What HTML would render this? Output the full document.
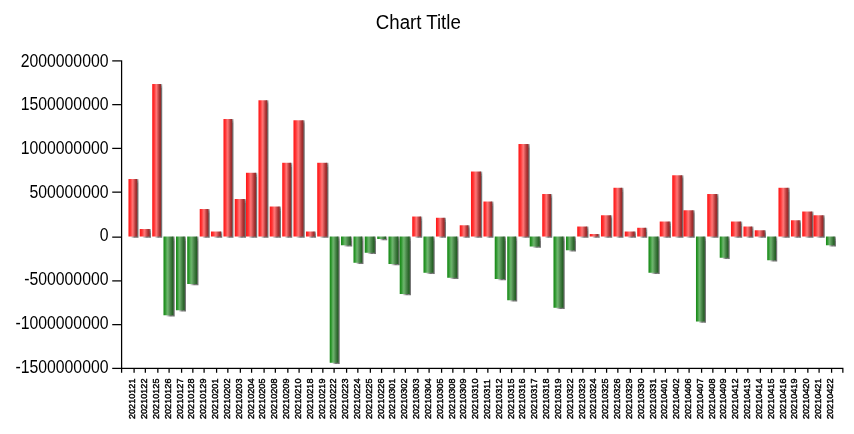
<!DOCTYPE html>
<html lang="en"><head><meta charset="utf-8"><title>Chart Title</title>
<style>
html,body{margin:0;padding:0;background:#fff;}
body{width:854px;height:434px;overflow:hidden;}
svg{display:block;}
text{font-family:"Liberation Sans",Arial,sans-serif;fill:#000;}
.yl{font-size:16.0px;text-anchor:end;}
.xl{font-size:9.33px;text-anchor:start;stroke:#000;stroke-width:0.42px;}
.t{font-size:18.67px;text-anchor:middle;}
</style></head><body>
<svg width="854" height="434" viewBox="0 0 854 434">
<defs>
<linearGradient id="gr" x1="0" y1="0" x2="1" y2="0"><stop offset="0" stop-color="rgb(255,22,22)"/><stop offset="0.146" stop-color="rgb(255,40,40)"/><stop offset="0.26" stop-color="rgb(255,60,60)"/><stop offset="0.375" stop-color="rgb(255,95,95)"/><stop offset="0.49" stop-color="rgb(255,117,117)"/><stop offset="0.6" stop-color="rgb(226,96,96)"/><stop offset="0.72" stop-color="rgb(196,72,72)"/><stop offset="0.83" stop-color="rgb(172,50,50)"/><stop offset="0.946" stop-color="rgb(150,43,43)"/><stop offset="1" stop-color="rgb(142,40,40)"/></linearGradient>
<linearGradient id="gg" x1="0" y1="0" x2="1" y2="0"><stop offset="0" stop-color="rgb(22,138,22)"/><stop offset="0.1" stop-color="rgb(35,145,35)"/><stop offset="0.2" stop-color="rgb(55,155,55)"/><stop offset="0.3" stop-color="rgb(85,170,85)"/><stop offset="0.4" stop-color="rgb(106,181,106)"/><stop offset="0.5" stop-color="rgb(100,166,100)"/><stop offset="0.6" stop-color="rgb(85,146,85)"/><stop offset="0.7" stop-color="rgb(70,130,70)"/><stop offset="0.8" stop-color="rgb(55,115,55)"/><stop offset="0.9" stop-color="rgb(40,100,40)"/><stop offset="1" stop-color="rgb(32,92,32)"/></linearGradient>
<linearGradient id="sv" x1="0" y1="0" x2="0" y2="1"><stop offset="0" stop-color="#000" stop-opacity="0.303"/><stop offset="1" stop-color="#000" stop-opacity="0.55"/></linearGradient>
<linearGradient id="sh" x1="0" y1="0" x2="1" y2="0"><stop offset="0" stop-color="#000" stop-opacity="0"/><stop offset="0.7" stop-color="#000" stop-opacity="0.55"/><stop offset="1" stop-color="#000" stop-opacity="0.55"/></linearGradient>
<filter id="soft" x="0" y="0" width="854" height="434" filterUnits="userSpaceOnUse"><feGaussianBlur stdDeviation="0.35"/></filter>
</defs>
<rect x="0" y="0" width="854" height="434" fill="#ffffff"/>
<g>
<g filter="url(#soft)"><text class="t" transform="translate(418.3,28.6) scale(1,1.07)">Chart Title</text></g>
<g transform="translate(-0.28,0.27) scale(1.25)">
<g>
<rect x="109" y="143" width="2" height="3" fill="url(#sv)"/>
<rect x="109" y="146" width="2" height="44" fill="#000" fill-opacity="0.55"/>
<rect x="105" y="188" width="4" height="2" fill="url(#sh)"/>
<rect x="119" y="183" width="2" height="3" fill="url(#sv)"/>
<rect x="119" y="186" width="2" height="4" fill="#000" fill-opacity="0.55"/>
<rect x="114" y="188" width="5" height="2" fill="url(#sh)"/>
<rect x="128" y="67" width="2" height="3" fill="url(#sv)"/>
<rect x="128" y="70" width="2" height="120" fill="#000" fill-opacity="0.55"/>
<rect x="124" y="188" width="4" height="2" fill="url(#sh)"/>
<rect x="138" y="189" width="2" height="3" fill="url(#sv)"/>
<rect x="138" y="192" width="2" height="61" fill="#000" fill-opacity="0.55"/>
<rect x="133" y="251" width="5" height="2" fill="url(#sh)"/>
<rect x="147" y="189" width="2" height="3" fill="url(#sv)"/>
<rect x="147" y="192" width="2" height="57" fill="#000" fill-opacity="0.55"/>
<rect x="143" y="247" width="4" height="2" fill="url(#sh)"/>
<rect x="157" y="189" width="2" height="3" fill="url(#sv)"/>
<rect x="157" y="192" width="2" height="36" fill="#000" fill-opacity="0.55"/>
<rect x="152" y="226" width="5" height="2" fill="url(#sh)"/>
<rect x="166" y="167" width="2" height="3" fill="url(#sv)"/>
<rect x="166" y="170" width="2" height="20" fill="#000" fill-opacity="0.55"/>
<rect x="162" y="188" width="4" height="2" fill="url(#sh)"/>
<rect x="176" y="185" width="2" height="3" fill="url(#sv)"/>
<rect x="176" y="188" width="2" height="2" fill="#000" fill-opacity="0.55"/>
<rect x="171" y="188" width="5" height="2" fill="url(#sh)"/>
<rect x="185" y="95" width="2" height="3" fill="url(#sv)"/>
<rect x="185" y="98" width="2" height="92" fill="#000" fill-opacity="0.55"/>
<rect x="181" y="188" width="4" height="2" fill="url(#sh)"/>
<rect x="195" y="159" width="2" height="3" fill="url(#sv)"/>
<rect x="195" y="162" width="2" height="28" fill="#000" fill-opacity="0.55"/>
<rect x="190" y="188" width="5" height="2" fill="url(#sh)"/>
<rect x="204" y="138" width="2" height="3" fill="url(#sv)"/>
<rect x="204" y="141" width="2" height="49" fill="#000" fill-opacity="0.55"/>
<rect x="199" y="188" width="5" height="2" fill="url(#sh)"/>
<rect x="213" y="80" width="2" height="3" fill="url(#sv)"/>
<rect x="213" y="83" width="2" height="107" fill="#000" fill-opacity="0.55"/>
<rect x="209" y="188" width="4" height="2" fill="url(#sh)"/>
<rect x="223" y="165" width="2" height="3" fill="url(#sv)"/>
<rect x="223" y="168" width="2" height="22" fill="#000" fill-opacity="0.55"/>
<rect x="218" y="188" width="5" height="2" fill="url(#sh)"/>
<rect x="232" y="130" width="2" height="3" fill="url(#sv)"/>
<rect x="232" y="133" width="2" height="57" fill="#000" fill-opacity="0.55"/>
<rect x="228" y="188" width="4" height="2" fill="url(#sh)"/>
<rect x="242" y="96" width="2" height="3" fill="url(#sv)"/>
<rect x="242" y="99" width="2" height="91" fill="#000" fill-opacity="0.55"/>
<rect x="237" y="188" width="5" height="2" fill="url(#sh)"/>
<rect x="251" y="185" width="2" height="3" fill="url(#sv)"/>
<rect x="251" y="188" width="2" height="2" fill="#000" fill-opacity="0.55"/>
<rect x="247" y="188" width="4" height="2" fill="url(#sh)"/>
<rect x="261" y="130" width="2" height="3" fill="url(#sv)"/>
<rect x="261" y="133" width="2" height="57" fill="#000" fill-opacity="0.55"/>
<rect x="256" y="188" width="5" height="2" fill="url(#sh)"/>
<rect x="270" y="189" width="2" height="3" fill="url(#sv)"/>
<rect x="270" y="192" width="2" height="99" fill="#000" fill-opacity="0.55"/>
<rect x="266" y="289" width="4" height="2" fill="url(#sh)"/>
<rect x="280" y="189" width="2" height="3" fill="url(#sv)"/>
<rect x="280" y="192" width="2" height="5" fill="#000" fill-opacity="0.55"/>
<rect x="275" y="195" width="5" height="2" fill="url(#sh)"/>
<rect x="289" y="189" width="2" height="3" fill="url(#sv)"/>
<rect x="289" y="192" width="2" height="19" fill="#000" fill-opacity="0.55"/>
<rect x="285" y="209" width="4" height="2" fill="url(#sh)"/>
<rect x="299" y="189" width="2" height="3" fill="url(#sv)"/>
<rect x="299" y="192" width="2" height="11" fill="#000" fill-opacity="0.55"/>
<rect x="294" y="201" width="5" height="2" fill="url(#sh)"/>
<rect x="308" y="189" width="2" height="3" fill="url(#sv)"/>
<rect x="304" y="190" width="4" height="2" fill="url(#sh)"/>
<rect x="318" y="189" width="2" height="3" fill="url(#sv)"/>
<rect x="318" y="192" width="2" height="20" fill="#000" fill-opacity="0.55"/>
<rect x="313" y="210" width="5" height="2" fill="url(#sh)"/>
<rect x="327" y="189" width="2" height="3" fill="url(#sv)"/>
<rect x="327" y="192" width="2" height="44" fill="#000" fill-opacity="0.55"/>
<rect x="322" y="234" width="5" height="2" fill="url(#sh)"/>
<rect x="336" y="173" width="2" height="3" fill="url(#sv)"/>
<rect x="336" y="176" width="2" height="14" fill="#000" fill-opacity="0.55"/>
<rect x="332" y="188" width="4" height="2" fill="url(#sh)"/>
<rect x="346" y="189" width="2" height="3" fill="url(#sv)"/>
<rect x="346" y="192" width="2" height="27" fill="#000" fill-opacity="0.55"/>
<rect x="341" y="217" width="5" height="2" fill="url(#sh)"/>
<rect x="355" y="174" width="2" height="3" fill="url(#sv)"/>
<rect x="355" y="177" width="2" height="13" fill="#000" fill-opacity="0.55"/>
<rect x="351" y="188" width="4" height="2" fill="url(#sh)"/>
<rect x="365" y="189" width="2" height="3" fill="url(#sv)"/>
<rect x="365" y="192" width="2" height="31" fill="#000" fill-opacity="0.55"/>
<rect x="360" y="221" width="5" height="2" fill="url(#sh)"/>
<rect x="374" y="180" width="2" height="3" fill="url(#sv)"/>
<rect x="374" y="183" width="2" height="7" fill="#000" fill-opacity="0.55"/>
<rect x="370" y="188" width="4" height="2" fill="url(#sh)"/>
<rect x="384" y="137" width="2" height="3" fill="url(#sv)"/>
<rect x="384" y="140" width="2" height="50" fill="#000" fill-opacity="0.55"/>
<rect x="379" y="188" width="5" height="2" fill="url(#sh)"/>
<rect x="393" y="161" width="2" height="3" fill="url(#sv)"/>
<rect x="393" y="164" width="2" height="26" fill="#000" fill-opacity="0.55"/>
<rect x="389" y="188" width="4" height="2" fill="url(#sh)"/>
<rect x="403" y="189" width="2" height="3" fill="url(#sv)"/>
<rect x="403" y="192" width="2" height="32" fill="#000" fill-opacity="0.55"/>
<rect x="398" y="222" width="5" height="2" fill="url(#sh)"/>
<rect x="412" y="189" width="2" height="3" fill="url(#sv)"/>
<rect x="412" y="192" width="2" height="49" fill="#000" fill-opacity="0.55"/>
<rect x="408" y="239" width="4" height="2" fill="url(#sh)"/>
<rect x="422" y="115" width="2" height="3" fill="url(#sv)"/>
<rect x="422" y="118" width="2" height="72" fill="#000" fill-opacity="0.55"/>
<rect x="417" y="188" width="5" height="2" fill="url(#sh)"/>
<rect x="431" y="189" width="2" height="3" fill="url(#sv)"/>
<rect x="431" y="192" width="2" height="6" fill="#000" fill-opacity="0.55"/>
<rect x="426" y="196" width="5" height="2" fill="url(#sh)"/>
<rect x="440" y="155" width="2" height="3" fill="url(#sv)"/>
<rect x="440" y="158" width="2" height="32" fill="#000" fill-opacity="0.55"/>
<rect x="436" y="188" width="4" height="2" fill="url(#sh)"/>
<rect x="450" y="189" width="2" height="3" fill="url(#sv)"/>
<rect x="450" y="192" width="2" height="55" fill="#000" fill-opacity="0.55"/>
<rect x="445" y="245" width="5" height="2" fill="url(#sh)"/>
<rect x="459" y="189" width="2" height="3" fill="url(#sv)"/>
<rect x="459" y="192" width="2" height="9" fill="#000" fill-opacity="0.55"/>
<rect x="455" y="199" width="4" height="2" fill="url(#sh)"/>
<rect x="469" y="181" width="2" height="3" fill="url(#sv)"/>
<rect x="469" y="184" width="2" height="6" fill="#000" fill-opacity="0.55"/>
<rect x="464" y="188" width="5" height="2" fill="url(#sh)"/>
<rect x="478" y="187" width="2" height="3" fill="url(#sv)"/>
<rect x="474" y="188" width="4" height="2" fill="url(#sh)"/>
<rect x="488" y="172" width="2" height="3" fill="url(#sv)"/>
<rect x="488" y="175" width="2" height="15" fill="#000" fill-opacity="0.55"/>
<rect x="483" y="188" width="5" height="2" fill="url(#sh)"/>
<rect x="497" y="150" width="2" height="3" fill="url(#sv)"/>
<rect x="497" y="153" width="2" height="37" fill="#000" fill-opacity="0.55"/>
<rect x="493" y="188" width="4" height="2" fill="url(#sh)"/>
<rect x="507" y="185" width="2" height="3" fill="url(#sv)"/>
<rect x="507" y="188" width="2" height="2" fill="#000" fill-opacity="0.55"/>
<rect x="502" y="188" width="5" height="2" fill="url(#sh)"/>
<rect x="516" y="182" width="2" height="3" fill="url(#sv)"/>
<rect x="516" y="185" width="2" height="5" fill="#000" fill-opacity="0.55"/>
<rect x="512" y="188" width="4" height="2" fill="url(#sh)"/>
<rect x="526" y="189" width="2" height="3" fill="url(#sv)"/>
<rect x="526" y="192" width="2" height="27" fill="#000" fill-opacity="0.55"/>
<rect x="521" y="217" width="5" height="2" fill="url(#sh)"/>
<rect x="535" y="177" width="2" height="3" fill="url(#sv)"/>
<rect x="535" y="180" width="2" height="10" fill="#000" fill-opacity="0.55"/>
<rect x="530" y="188" width="5" height="2" fill="url(#sh)"/>
<rect x="545" y="140" width="2" height="3" fill="url(#sv)"/>
<rect x="545" y="143" width="2" height="47" fill="#000" fill-opacity="0.55"/>
<rect x="540" y="188" width="5" height="2" fill="url(#sh)"/>
<rect x="554" y="168" width="2" height="3" fill="url(#sv)"/>
<rect x="554" y="171" width="2" height="19" fill="#000" fill-opacity="0.55"/>
<rect x="549" y="188" width="5" height="2" fill="url(#sh)"/>
<rect x="563" y="189" width="2" height="3" fill="url(#sv)"/>
<rect x="563" y="192" width="2" height="66" fill="#000" fill-opacity="0.55"/>
<rect x="559" y="256" width="4" height="2" fill="url(#sh)"/>
<rect x="573" y="155" width="2" height="3" fill="url(#sv)"/>
<rect x="573" y="158" width="2" height="32" fill="#000" fill-opacity="0.55"/>
<rect x="568" y="188" width="5" height="2" fill="url(#sh)"/>
<rect x="582" y="189" width="2" height="3" fill="url(#sv)"/>
<rect x="582" y="192" width="2" height="15" fill="#000" fill-opacity="0.55"/>
<rect x="578" y="205" width="4" height="2" fill="url(#sh)"/>
<rect x="592" y="177" width="2" height="3" fill="url(#sv)"/>
<rect x="592" y="180" width="2" height="10" fill="#000" fill-opacity="0.55"/>
<rect x="587" y="188" width="5" height="2" fill="url(#sh)"/>
<rect x="601" y="181" width="2" height="3" fill="url(#sv)"/>
<rect x="601" y="184" width="2" height="6" fill="#000" fill-opacity="0.55"/>
<rect x="597" y="188" width="4" height="2" fill="url(#sh)"/>
<rect x="611" y="184" width="2" height="3" fill="url(#sv)"/>
<rect x="611" y="187" width="2" height="3" fill="#000" fill-opacity="0.55"/>
<rect x="606" y="188" width="5" height="2" fill="url(#sh)"/>
<rect x="620" y="189" width="2" height="3" fill="url(#sv)"/>
<rect x="620" y="192" width="2" height="17" fill="#000" fill-opacity="0.55"/>
<rect x="616" y="207" width="4" height="2" fill="url(#sh)"/>
<rect x="630" y="150" width="2" height="3" fill="url(#sv)"/>
<rect x="630" y="153" width="2" height="37" fill="#000" fill-opacity="0.55"/>
<rect x="625" y="188" width="5" height="2" fill="url(#sh)"/>
<rect x="639" y="176" width="2" height="3" fill="url(#sv)"/>
<rect x="639" y="179" width="2" height="11" fill="#000" fill-opacity="0.55"/>
<rect x="635" y="188" width="4" height="2" fill="url(#sh)"/>
<rect x="649" y="169" width="2" height="3" fill="url(#sv)"/>
<rect x="649" y="172" width="2" height="18" fill="#000" fill-opacity="0.55"/>
<rect x="644" y="188" width="5" height="2" fill="url(#sh)"/>
<rect x="658" y="172" width="2" height="3" fill="url(#sv)"/>
<rect x="658" y="175" width="2" height="15" fill="#000" fill-opacity="0.55"/>
<rect x="653" y="188" width="5" height="2" fill="url(#sh)"/>
<rect x="667" y="189" width="2" height="3" fill="url(#sv)"/>
<rect x="667" y="192" width="2" height="5" fill="#000" fill-opacity="0.55"/>
<rect x="663" y="195" width="4" height="2" fill="url(#sh)"/>
</g>
<rect x="103" y="143" width="7" height="46" fill="url(#gr)"/>
<rect x="112" y="183" width="8" height="6" fill="url(#gr)"/>
<rect x="122" y="67" width="7" height="122" fill="url(#gr)"/>
<rect x="131" y="189" width="8" height="63" fill="url(#gg)"/>
<rect x="141" y="189" width="7" height="59" fill="url(#gg)"/>
<rect x="150" y="189" width="8" height="38" fill="url(#gg)"/>
<rect x="160" y="167" width="7" height="22" fill="url(#gr)"/>
<rect x="169" y="185" width="8" height="4" fill="url(#gr)"/>
<rect x="179" y="95" width="7" height="94" fill="url(#gr)"/>
<rect x="188" y="159" width="8" height="30" fill="url(#gr)"/>
<rect x="197" y="138" width="8" height="51" fill="url(#gr)"/>
<rect x="207" y="80" width="7" height="109" fill="url(#gr)"/>
<rect x="216" y="165" width="8" height="24" fill="url(#gr)"/>
<rect x="226" y="130" width="7" height="59" fill="url(#gr)"/>
<rect x="235" y="96" width="8" height="93" fill="url(#gr)"/>
<rect x="245" y="185" width="7" height="4" fill="url(#gr)"/>
<rect x="254" y="130" width="8" height="59" fill="url(#gr)"/>
<rect x="264" y="189" width="7" height="101" fill="url(#gg)"/>
<rect x="273" y="189" width="8" height="7" fill="url(#gg)"/>
<rect x="283" y="189" width="7" height="21" fill="url(#gg)"/>
<rect x="292" y="189" width="8" height="13" fill="url(#gg)"/>
<rect x="302" y="189" width="7" height="2" fill="url(#gg)"/>
<rect x="311" y="189" width="8" height="22" fill="url(#gg)"/>
<rect x="320" y="189" width="8" height="46" fill="url(#gg)"/>
<rect x="330" y="173" width="7" height="16" fill="url(#gr)"/>
<rect x="339" y="189" width="8" height="29" fill="url(#gg)"/>
<rect x="349" y="174" width="7" height="15" fill="url(#gr)"/>
<rect x="358" y="189" width="8" height="33" fill="url(#gg)"/>
<rect x="368" y="180" width="7" height="9" fill="url(#gr)"/>
<rect x="377" y="137" width="8" height="52" fill="url(#gr)"/>
<rect x="387" y="161" width="7" height="28" fill="url(#gr)"/>
<rect x="396" y="189" width="8" height="34" fill="url(#gg)"/>
<rect x="406" y="189" width="7" height="51" fill="url(#gg)"/>
<rect x="415" y="115" width="8" height="74" fill="url(#gr)"/>
<rect x="424" y="189" width="8" height="8" fill="url(#gg)"/>
<rect x="434" y="155" width="7" height="34" fill="url(#gr)"/>
<rect x="443" y="189" width="8" height="57" fill="url(#gg)"/>
<rect x="453" y="189" width="7" height="11" fill="url(#gg)"/>
<rect x="462" y="181" width="8" height="8" fill="url(#gr)"/>
<rect x="472" y="187" width="7" height="2" fill="url(#gr)"/>
<rect x="481" y="172" width="8" height="17" fill="url(#gr)"/>
<rect x="491" y="150" width="7" height="39" fill="url(#gr)"/>
<rect x="500" y="185" width="8" height="4" fill="url(#gr)"/>
<rect x="510" y="182" width="7" height="7" fill="url(#gr)"/>
<rect x="519" y="189" width="8" height="29" fill="url(#gg)"/>
<rect x="528" y="177" width="8" height="12" fill="url(#gr)"/>
<rect x="538" y="140" width="8" height="49" fill="url(#gr)"/>
<rect x="547" y="168" width="8" height="21" fill="url(#gr)"/>
<rect x="557" y="189" width="7" height="68" fill="url(#gg)"/>
<rect x="566" y="155" width="8" height="34" fill="url(#gr)"/>
<rect x="576" y="189" width="7" height="17" fill="url(#gg)"/>
<rect x="585" y="177" width="8" height="12" fill="url(#gr)"/>
<rect x="595" y="181" width="7" height="8" fill="url(#gr)"/>
<rect x="604" y="184" width="8" height="5" fill="url(#gr)"/>
<rect x="614" y="189" width="7" height="19" fill="url(#gg)"/>
<rect x="623" y="150" width="8" height="39" fill="url(#gr)"/>
<rect x="633" y="176" width="7" height="13" fill="url(#gr)"/>
<rect x="642" y="169" width="8" height="20" fill="url(#gr)"/>
<rect x="651" y="172" width="8" height="17" fill="url(#gr)"/>
<rect x="661" y="189" width="7" height="7" fill="url(#gg)"/>
<g fill="#000">
<rect x="97" y="48" width="1" height="250"/>
<rect x="90" y="294" width="585" height="1"/>
<rect x="90" y="48" width="7" height="1"/>
<rect x="90" y="83" width="7" height="1"/>
<rect x="90" y="118" width="7" height="1"/>
<rect x="90" y="153" width="7" height="1"/>
<rect x="90" y="189" width="7" height="1"/>
<rect x="90" y="224" width="7" height="1"/>
<rect x="90" y="259" width="7" height="1"/>
<rect x="107" y="295" width="1" height="3"/>
<rect x="116" y="295" width="1" height="3"/>
<rect x="126" y="295" width="1" height="3"/>
<rect x="135" y="295" width="1" height="3"/>
<rect x="145" y="295" width="1" height="3"/>
<rect x="154" y="295" width="1" height="3"/>
<rect x="163" y="295" width="1" height="3"/>
<rect x="173" y="295" width="1" height="3"/>
<rect x="182" y="295" width="1" height="3"/>
<rect x="192" y="295" width="1" height="3"/>
<rect x="201" y="295" width="1" height="3"/>
<rect x="211" y="295" width="1" height="3"/>
<rect x="220" y="295" width="1" height="3"/>
<rect x="230" y="295" width="1" height="3"/>
<rect x="239" y="295" width="1" height="3"/>
<rect x="249" y="295" width="1" height="3"/>
<rect x="258" y="295" width="1" height="3"/>
<rect x="267" y="295" width="1" height="3"/>
<rect x="277" y="295" width="1" height="3"/>
<rect x="286" y="295" width="1" height="3"/>
<rect x="296" y="295" width="1" height="3"/>
<rect x="305" y="295" width="1" height="3"/>
<rect x="315" y="295" width="1" height="3"/>
<rect x="324" y="295" width="1" height="3"/>
<rect x="334" y="295" width="1" height="3"/>
<rect x="343" y="295" width="1" height="3"/>
<rect x="353" y="295" width="1" height="3"/>
<rect x="362" y="295" width="1" height="3"/>
<rect x="371" y="295" width="1" height="3"/>
<rect x="381" y="295" width="1" height="3"/>
<rect x="390" y="295" width="1" height="3"/>
<rect x="400" y="295" width="1" height="3"/>
<rect x="409" y="295" width="1" height="3"/>
<rect x="419" y="295" width="1" height="3"/>
<rect x="428" y="295" width="1" height="3"/>
<rect x="438" y="295" width="1" height="3"/>
<rect x="447" y="295" width="1" height="3"/>
<rect x="457" y="295" width="1" height="3"/>
<rect x="466" y="295" width="1" height="3"/>
<rect x="476" y="295" width="1" height="3"/>
<rect x="485" y="295" width="1" height="3"/>
<rect x="494" y="295" width="1" height="3"/>
<rect x="504" y="295" width="1" height="3"/>
<rect x="513" y="295" width="1" height="3"/>
<rect x="523" y="295" width="1" height="3"/>
<rect x="532" y="295" width="1" height="3"/>
<rect x="542" y="295" width="1" height="3"/>
<rect x="551" y="295" width="1" height="3"/>
<rect x="561" y="295" width="1" height="3"/>
<rect x="570" y="295" width="1" height="3"/>
<rect x="580" y="295" width="1" height="3"/>
<rect x="589" y="295" width="1" height="3"/>
<rect x="598" y="295" width="1" height="3"/>
<rect x="608" y="295" width="1" height="3"/>
<rect x="617" y="295" width="1" height="3"/>
<rect x="627" y="295" width="1" height="3"/>
<rect x="636" y="295" width="1" height="3"/>
<rect x="646" y="295" width="1" height="3"/>
<rect x="655" y="295" width="1" height="3"/>
<rect x="665" y="295" width="1" height="3"/>
<rect x="674" y="295" width="1" height="3"/>
</g>
</g>
<g filter="url(#soft)">
<text class="yl" transform="translate(108.5,66.50) scale(0.988,1.11)">2000000000</text>
<text class="yl" transform="translate(108.5,110.17) scale(0.988,1.11)">1500000000</text>
<text class="yl" transform="translate(108.5,153.80) scale(0.988,1.11)">1000000000</text>
<text class="yl" transform="translate(108.5,197.60) scale(0.988,1.11)">500000000</text>
<text class="yl" transform="translate(108.5,241.35) scale(0.988,1.11)">0</text>
<text class="yl" transform="translate(108.5,285.10) scale(0.988,1.11)">-500000000</text>
<text class="yl" transform="translate(108.5,328.90) scale(0.988,1.11)">-1000000000</text>
<text class="yl" transform="translate(108.5,372.65) scale(0.988,1.11)">-1500000000</text>
<text class="xl" transform="translate(135.34,419.0) rotate(-90) scale(0.975,1.06)">20210121</text>
<text class="xl" transform="translate(147.16,419.0) rotate(-90) scale(0.975,1.06)">20210122</text>
<text class="xl" transform="translate(158.98,419.0) rotate(-90) scale(0.975,1.06)">20210125</text>
<text class="xl" transform="translate(170.81,419.0) rotate(-90) scale(0.975,1.06)">20210126</text>
<text class="xl" transform="translate(182.63,419.0) rotate(-90) scale(0.975,1.06)">20210127</text>
<text class="xl" transform="translate(194.45,419.0) rotate(-90) scale(0.975,1.06)">20210128</text>
<text class="xl" transform="translate(206.27,419.0) rotate(-90) scale(0.975,1.06)">20210129</text>
<text class="xl" transform="translate(218.10,419.0) rotate(-90) scale(0.975,1.06)">20210201</text>
<text class="xl" transform="translate(229.92,419.0) rotate(-90) scale(0.975,1.06)">20210202</text>
<text class="xl" transform="translate(241.74,419.0) rotate(-90) scale(0.975,1.06)">20210203</text>
<text class="xl" transform="translate(253.56,419.0) rotate(-90) scale(0.975,1.06)">20210204</text>
<text class="xl" transform="translate(265.39,419.0) rotate(-90) scale(0.975,1.06)">20210205</text>
<text class="xl" transform="translate(277.21,419.0) rotate(-90) scale(0.975,1.06)">20210208</text>
<text class="xl" transform="translate(289.03,419.0) rotate(-90) scale(0.975,1.06)">20210209</text>
<text class="xl" transform="translate(300.85,419.0) rotate(-90) scale(0.975,1.06)">20210210</text>
<text class="xl" transform="translate(312.68,419.0) rotate(-90) scale(0.975,1.06)">20210218</text>
<text class="xl" transform="translate(324.50,419.0) rotate(-90) scale(0.975,1.06)">20210219</text>
<text class="xl" transform="translate(336.32,419.0) rotate(-90) scale(0.975,1.06)">20210222</text>
<text class="xl" transform="translate(348.14,419.0) rotate(-90) scale(0.975,1.06)">20210223</text>
<text class="xl" transform="translate(359.97,419.0) rotate(-90) scale(0.975,1.06)">20210224</text>
<text class="xl" transform="translate(371.79,419.0) rotate(-90) scale(0.975,1.06)">20210225</text>
<text class="xl" transform="translate(383.61,419.0) rotate(-90) scale(0.975,1.06)">20210226</text>
<text class="xl" transform="translate(395.43,419.0) rotate(-90) scale(0.975,1.06)">20210301</text>
<text class="xl" transform="translate(407.25,419.0) rotate(-90) scale(0.975,1.06)">20210302</text>
<text class="xl" transform="translate(419.08,419.0) rotate(-90) scale(0.975,1.06)">20210303</text>
<text class="xl" transform="translate(430.90,419.0) rotate(-90) scale(0.975,1.06)">20210304</text>
<text class="xl" transform="translate(442.72,419.0) rotate(-90) scale(0.975,1.06)">20210305</text>
<text class="xl" transform="translate(454.54,419.0) rotate(-90) scale(0.975,1.06)">20210308</text>
<text class="xl" transform="translate(466.37,419.0) rotate(-90) scale(0.975,1.06)">20210309</text>
<text class="xl" transform="translate(478.19,419.0) rotate(-90) scale(0.975,1.06)">20210310</text>
<text class="xl" transform="translate(490.01,419.0) rotate(-90) scale(0.975,1.06)">20210311</text>
<text class="xl" transform="translate(501.83,419.0) rotate(-90) scale(0.975,1.06)">20210312</text>
<text class="xl" transform="translate(513.66,419.0) rotate(-90) scale(0.975,1.06)">20210315</text>
<text class="xl" transform="translate(525.48,419.0) rotate(-90) scale(0.975,1.06)">20210316</text>
<text class="xl" transform="translate(537.30,419.0) rotate(-90) scale(0.975,1.06)">20210317</text>
<text class="xl" transform="translate(549.12,419.0) rotate(-90) scale(0.975,1.06)">20210318</text>
<text class="xl" transform="translate(560.95,419.0) rotate(-90) scale(0.975,1.06)">20210319</text>
<text class="xl" transform="translate(572.77,419.0) rotate(-90) scale(0.975,1.06)">20210322</text>
<text class="xl" transform="translate(584.59,419.0) rotate(-90) scale(0.975,1.06)">20210323</text>
<text class="xl" transform="translate(596.41,419.0) rotate(-90) scale(0.975,1.06)">20210324</text>
<text class="xl" transform="translate(608.23,419.0) rotate(-90) scale(0.975,1.06)">20210325</text>
<text class="xl" transform="translate(620.06,419.0) rotate(-90) scale(0.975,1.06)">20210326</text>
<text class="xl" transform="translate(631.88,419.0) rotate(-90) scale(0.975,1.06)">20210329</text>
<text class="xl" transform="translate(643.70,419.0) rotate(-90) scale(0.975,1.06)">20210330</text>
<text class="xl" transform="translate(655.52,419.0) rotate(-90) scale(0.975,1.06)">20210331</text>
<text class="xl" transform="translate(667.35,419.0) rotate(-90) scale(0.975,1.06)">20210401</text>
<text class="xl" transform="translate(679.17,419.0) rotate(-90) scale(0.975,1.06)">20210402</text>
<text class="xl" transform="translate(690.99,419.0) rotate(-90) scale(0.975,1.06)">20210406</text>
<text class="xl" transform="translate(702.81,419.0) rotate(-90) scale(0.975,1.06)">20210407</text>
<text class="xl" transform="translate(714.64,419.0) rotate(-90) scale(0.975,1.06)">20210408</text>
<text class="xl" transform="translate(726.46,419.0) rotate(-90) scale(0.975,1.06)">20210409</text>
<text class="xl" transform="translate(738.28,419.0) rotate(-90) scale(0.975,1.06)">20210412</text>
<text class="xl" transform="translate(750.10,419.0) rotate(-90) scale(0.975,1.06)">20210413</text>
<text class="xl" transform="translate(761.93,419.0) rotate(-90) scale(0.975,1.06)">20210414</text>
<text class="xl" transform="translate(773.75,419.0) rotate(-90) scale(0.975,1.06)">20210415</text>
<text class="xl" transform="translate(785.57,419.0) rotate(-90) scale(0.975,1.06)">20210416</text>
<text class="xl" transform="translate(797.39,419.0) rotate(-90) scale(0.975,1.06)">20210419</text>
<text class="xl" transform="translate(809.22,419.0) rotate(-90) scale(0.975,1.06)">20210420</text>
<text class="xl" transform="translate(821.04,419.0) rotate(-90) scale(0.975,1.06)">20210421</text>
<text class="xl" transform="translate(832.86,419.0) rotate(-90) scale(0.975,1.06)">20210422</text>
</g>
</g>
</svg>
</body></html>
